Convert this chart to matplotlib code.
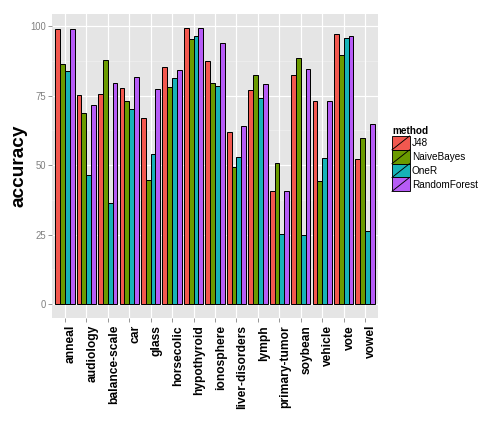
import numpy as np
import matplotlib
matplotlib.use("Agg")
import matplotlib.pyplot as plt
from matplotlib.patches import Rectangle
from matplotlib.lines import Line2D
from matplotlib.legend_handler import HandlerBase

datasets = ["anneal", "audiology", "balance-scale", "car", "glass", "horsecolic",
            "hypothyroid", "ionosphere", "liver-disorders", "lymph", "primary-tumor",
            "soybean", "vehicle", "vote", "vowel"]
methods = ["J48", "NaiveBayes", "OneR", "RandomForest"]

j48 = [98.8, 75.2, 75.5, 77.8, 66.9, 85.3, 99.3, 87.4, 61.8, 77.1, 40.6, 82.4, 73.0, 97.0, 52.2]
naive_bayes = [86.5, 68.6, 87.8, 73.0, 44.6, 78.1, 95.3, 79.4, 49.3, 82.4, 50.6, 88.4, 44.4, 89.6, 59.7]
one_r = [83.7, 46.4, 36.3, 70.0, 54.0, 81.4, 96.3, 78.3, 53.0, 74.2, 25.2, 24.8, 52.5, 95.6, 26.3]
random_forest = [99.0, 71.7, 79.6, 81.8, 77.5, 84.2, 99.2, 93.8, 64.0, 79.0, 40.5, 84.7, 73.0, 96.5, 64.6]

y_ticks = [0, 25, 50, 75, 100]

colors = ["#F2584F", "#6B9B00", "#17B3B7", "#B65CF6"]
series = [j48, naive_bayes, one_r, random_forest]

plt.rcParams['font.family'] = ['Liberation Sans', 'DejaVu Sans']

fig = plt.figure(figsize=(7, 6), dpi=72)
ax = fig.add_axes([52/504, 1 - 318/432, (378-52)/504, (318-14)/432])
ax.set_facecolor("#E5E5E5")

x = np.arange(1, len(datasets) + 1)
w = 0.225
for i, (vals, c) in enumerate(zip(series, colors)):
    ax.bar(x + (i - 1.5) * w, vals, width=w, color=c, edgecolor="black",
           linewidth=1.0, zorder=3)

ax.set_xlim(0.4, len(datasets) + 0.6)
ax.set_ylim(-4.97, 104.3)

# grid
for m in [12.5, 37.5, 62.5, 87.5]:
    ax.axhline(m, color="#F2F2F2", linewidth=0.6, zorder=1)
for t in y_ticks:
    ax.axhline(t, color="white", linewidth=1.2, zorder=1.5)
for xi in x:
    ax.axvline(xi, color="white", linewidth=1.2, zorder=1.5)

ax.set_yticks(y_ticks)
ax.set_yticklabels([str(t) for t in y_ticks], color="#7F7F7F", fontsize=9.5)
ax.set_xticks(x)
ax.set_xticklabels(datasets, rotation=90, fontsize=12, fontweight="bold",
                   color="black", ha="left")
ax.tick_params(axis="both", length=4, color="#7F7F7F", width=0.8)
ax.tick_params(axis="x", pad=3)
ax.tick_params(axis="y", pad=2)
for s in ax.spines.values():
    s.set_visible(False)

ax.set_ylabel("accuracy", fontsize=19, fontweight="bold")
ax.yaxis.set_label_coords(-(52 - 28) / 326, 0.5)


class KeyHandler(HandlerBase):
    def create_artists(self, legend, orig_handle, xdescent, ydescent, width,
                       height, fontsize, trans):
        r = Rectangle((-xdescent, -ydescent), width, height,
                      facecolor=orig_handle.get_facecolor(), edgecolor="black",
                      linewidth=0.9, transform=trans)
        l = Line2D([-xdescent, -xdescent + width], [-ydescent, -ydescent + height],
                   color="black", linewidth=0.9, transform=trans)
        return [r, l]


handles = [Rectangle((0, 0), 1, 1, facecolor=c) for c in colors]
leg = fig.legend(handles, methods, handler_map={Rectangle: KeyHandler()},
                 loc="upper left", bbox_to_anchor=(390/504, 1 - 124/432),
                 frameon=False, fontsize=10, title="method",
                 title_fontproperties={"weight": "bold", "size": 10},
                 handlelength=1.75, handleheight=1.75, handletextpad=0.25,
                 labelspacing=0.0, borderpad=0.2, borderaxespad=0)
leg._legend_box.align = "left"

fig.savefig("out.png", dpi=72)
